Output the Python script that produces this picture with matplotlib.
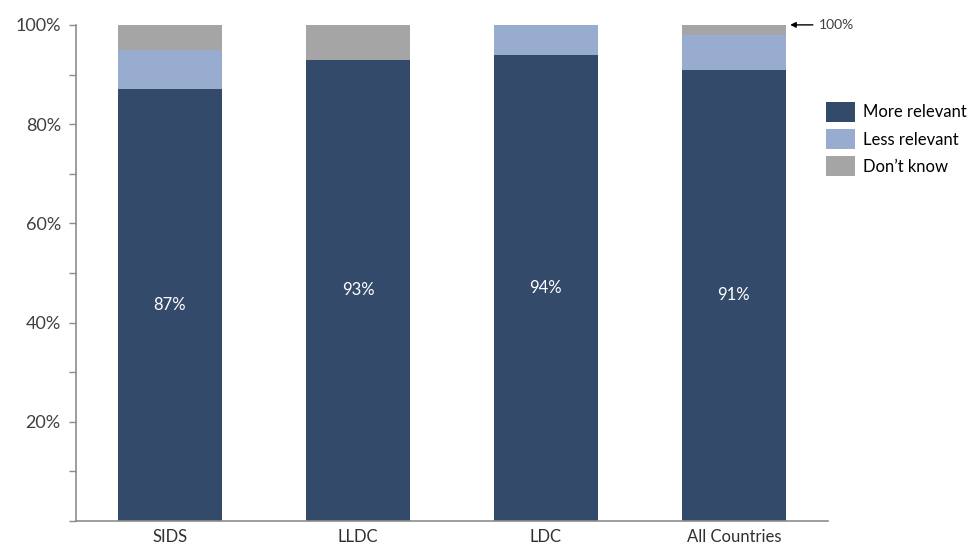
import numpy as np
import matplotlib
matplotlib.use('Agg')
import matplotlib.pyplot as plt

plt.rcParams['font.family'] = ['Lato', 'DejaVu Sans']

# Data
groups = ['SIDS', 'LLDC', 'LDC', 'All Countries']
more_relevant = [87, 93, 94, 91]
less_relevant = [8, 0, 6, 7]
dont_know = [5, 7, 0, 2]
series_names = ['More relevant', 'Less relevant', 'Don\u2019t know']
colors = ['#344a6a', '#97acce', '#a5a5a5']

fig = plt.figure(figsize=(9.75, 5.47), dpi=100)
ax = fig.add_axes([0.078, 0.0475, 0.771, 0.907])

x = np.arange(len(groups))
width = 0.555
bottom = np.zeros(len(groups))
for vals, name, c in zip([more_relevant, less_relevant, dont_know], series_names, colors):
    ax.bar(x, vals, width, bottom=bottom, color=c, label=name)
    bottom += np.array(vals)

# value labels inside the dark bars
for xi, v in zip(x, more_relevant):
    ax.text(xi, v / 2, f'{v}%', ha='center', va='center', color='white', fontsize=12)

ax.set_xlim(-0.5, 3.5)
ax.set_ylim(0, 100)
ax.set_yticks([0, 20, 40, 60, 80, 100])
ax.set_yticklabels(['', '20%', '40%', '60%', '80%', '100%'])
ax.set_yticks(np.arange(10, 100, 20), minor=True)
ax.set_xticks(x)
ax.set_xticklabels(groups)

for s in ['top', 'right']:
    ax.spines[s].set_visible(False)
for s in ['left', 'bottom']:
    ax.spines[s].set_color('#8c8c8c')
    ax.spines[s].set_linewidth(1.2)
ax.tick_params(axis='y', which='both', color='#8c8c8c', length=5, width=1,
               labelsize=13, labelcolor='#404040', pad=6)
ax.tick_params(axis='x', length=0, labelsize=12, labelcolor='#303030', pad=6)

ax.legend(loc='upper left', bbox_to_anchor=(0.978, 0.875), frameon=False,
          fontsize=12, handlelength=1.75, handleheight=1.45, handletextpad=0.45,
          labelspacing=0.45)

# "100%" marker
ax.annotate('100%', xy=(3.3, 100), xytext=(3.45, 100), textcoords='data',
            va='center', ha='left', fontsize=10, color='#404040',
            arrowprops=dict(arrowstyle='-|>', color='black', lw=1, mutation_scale=8,
                            shrinkA=2, shrinkB=0),
            annotation_clip=False)

fig.savefig('out.png', dpi=100)
